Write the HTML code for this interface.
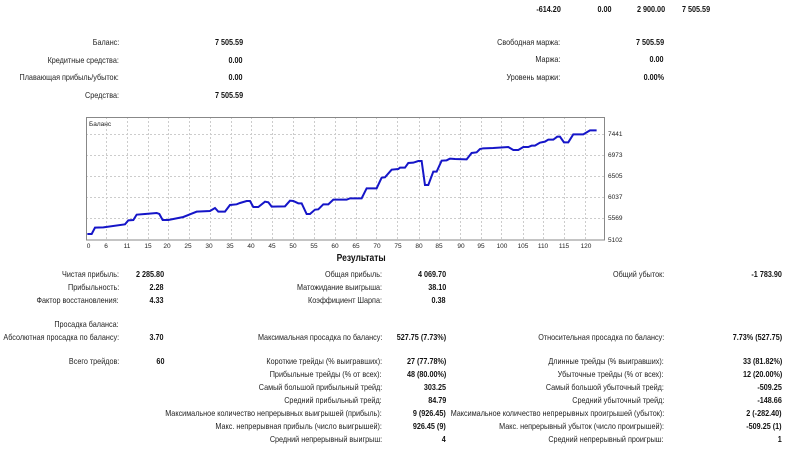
<!DOCTYPE html>
<html><head><meta charset="utf-8"><style>
body{margin:0;width:800px;height:454px;background:#fff;position:relative;overflow:hidden;font-family:"Liberation Sans","DejaVu Sans",sans-serif;font-size:8.5px;color:#222}
.t{position:absolute;white-space:nowrap;line-height:12px;text-align:right;transform:scaleX(0.85);transform-origin:100% 50%}
.b{font-weight:bold;color:#111}
</style></head><body>
<div class="t b" style="right:239px;top:3px">-614.20</div>
<div class="t b" style="right:188px;top:3px">0.00</div>
<div class="t b" style="right:135px;top:3px">2 900.00</div>
<div class="t b" style="right:90px;top:3px">7 505.59</div>

<div class="t" style="right:681px;top:36px">Баланс:</div><div class="t b" style="right:557px;top:36px">7 505.59</div>
<div class="t" style="right:681px;top:54px">Кредитные средства:</div><div class="t b" style="right:557px;top:54px">0.00</div>
<div class="t" style="right:681px;top:71px">Плавающая прибыль/убыток:</div><div class="t b" style="right:557px;top:71px">0.00</div>
<div class="t" style="right:681px;top:89px">Средства:</div><div class="t b" style="right:557px;top:89px">7 505.59</div>

<div class="t" style="right:240px;top:36px">Свободная маржа:</div><div class="t b" style="right:136px;top:36px">7 505.59</div>
<div class="t" style="right:240px;top:53px">Маржа:</div><div class="t b" style="right:136px;top:53px">0.00</div>
<div class="t" style="right:240px;top:71px">Уровень маржи:</div><div class="t b" style="right:136px;top:71px">0.00%</div>

<svg style="position:absolute;left:0;top:0" width="800" height="454">
<g stroke="#ccc" stroke-dasharray="2,2" stroke-width="1">
<line x1="86" x2="604" y1="134.5" y2="134.5"/><line x1="86" x2="604" y1="155.5" y2="155.5"/><line x1="86" x2="604" y1="176.5" y2="176.5"/><line x1="86" x2="604" y1="197.5" y2="197.5"/><line x1="86" x2="604" y1="218.5" y2="218.5"/>
<line x1="106.5" x2="106.5" y1="117" y2="240"/><line x1="127.5" x2="127.5" y1="117" y2="240"/><line x1="148.5" x2="148.5" y1="117" y2="240"/><line x1="168.5" x2="168.5" y1="117" y2="240"/><line x1="189.5" x2="189.5" y1="117" y2="240"/><line x1="210.5" x2="210.5" y1="117" y2="240"/><line x1="231.5" x2="231.5" y1="117" y2="240"/><line x1="251.5" x2="251.5" y1="117" y2="240"/><line x1="272.5" x2="272.5" y1="117" y2="240"/><line x1="293.5" x2="293.5" y1="117" y2="240"/><line x1="314.5" x2="314.5" y1="117" y2="240"/><line x1="335.5" x2="335.5" y1="117" y2="240"/><line x1="356.5" x2="356.5" y1="117" y2="240"/><line x1="376.5" x2="376.5" y1="117" y2="240"/><line x1="397.5" x2="397.5" y1="117" y2="240"/><line x1="419.5" x2="419.5" y1="117" y2="240"/><line x1="439.5" x2="439.5" y1="117" y2="240"/><line x1="460.5" x2="460.5" y1="117" y2="240"/><line x1="481.5" x2="481.5" y1="117" y2="240"/><line x1="501.5" x2="501.5" y1="117" y2="240"/><line x1="523.5" x2="523.5" y1="117" y2="240"/><line x1="543.5" x2="543.5" y1="117" y2="240"/><line x1="564.5" x2="564.5" y1="117" y2="240"/><line x1="585.5" x2="585.5" y1="117" y2="240"/>
</g>
<rect x="86.5" y="117.5" width="518" height="122.5" fill="none" stroke="#888" stroke-width="1"/>
<g transform="translate(80,115) scale(0.3333)">
<polyline fill="none" stroke="#1515c8" stroke-width="6" points="22,357 35,357 45,338 70,337 135,328 145,316 160,315 170,299 195,297 230,294 238,297 248,315 265,315 310,306 330,298 350,290 390,288 405,279 415,290 435,290 450,270 470,268 480,264 500,258 510,258 520,276 535,276 555,260 565,262 575,275 615,274 630,257 640,258 655,265 665,265 680,297 690,297 705,284 715,283 730,268 745,268 760,254 800,254 810,250 845,250 860,220 890,220 905,188 915,187 935,164 955,162 960,158 975,158 985,144 1000,143 1015,138 1025,138 1035,210 1045,210 1060,170 1070,170 1085,137 1100,136 1110,131 1125,132 1160,133 1175,114 1190,112 1200,102 1210,100 1240,99 1285,96 1300,105 1315,105 1330,96 1345,96 1355,92 1365,92 1380,83 1395,80 1405,74 1420,74 1432,65 1440,65 1452,82 1465,82 1480,58 1510,58 1530,46 1550,46"/>
</g>
<g font-family="Liberation Sans, sans-serif" font-size="6.5" fill="#222">
<text x="89" y="126">Баланс</text>
<text x="608" y="136">7441</text><text x="608" y="157">6973</text><text x="608" y="178">6505</text><text x="608" y="199">6037</text><text x="608" y="220">5569</text><text x="608" y="242">5102</text>
</g>
<g font-family="Liberation Sans, sans-serif" font-size="6.5" fill="#222" text-anchor="middle">
<text x="88.5" y="248">0</text><text x="106" y="248">6</text><text x="127" y="248">11</text><text x="148" y="248">15</text><text x="167" y="248">20</text><text x="188" y="248">25</text><text x="209" y="248">30</text><text x="230" y="248">35</text><text x="251" y="248">40</text><text x="272" y="248">45</text><text x="293" y="248">50</text><text x="314" y="248">55</text><text x="335" y="248">60</text><text x="356" y="248">65</text><text x="377" y="248">70</text><text x="398" y="248">75</text><text x="419" y="248">80</text><text x="439" y="248">85</text><text x="461" y="248">90</text><text x="481" y="248">95</text><text x="502" y="248">100</text><text x="523" y="248">105</text><text x="543" y="248">110</text><text x="564" y="248">115</text><text x="586" y="248">120</text>
</g>
</svg>

<div class="t b" style="right:414px;top:253px;font-size:10px">Результаты</div>

<div class="t" style="right:681px;top:268px">Чистая прибыль:</div><div class="t b" style="right:636px;top:268px">2 285.80</div>
<div class="t" style="right:681px;top:281px">Прибыльность:</div><div class="t b" style="right:636px;top:281px">2.28</div>
<div class="t" style="right:681px;top:294px">Фактор восстановления:</div><div class="t b" style="right:636px;top:294px">4.33</div>
<div class="t" style="right:681px;top:318px">Просадка баланса:</div>
<div class="t" style="right:681px;top:331px">Абсолютная просадка по балансу:</div><div class="t b" style="right:636px;top:331px">3.70</div>
<div class="t" style="right:681px;top:355px">Всего трейдов:</div><div class="t b" style="right:636px;top:355px">60</div>

<div class="t" style="right:418px;top:268px">Общая прибыль:</div><div class="t b" style="right:354px;top:268px">4 069.70</div>
<div class="t" style="right:418px;top:281px">Матожидание выигрыша:</div><div class="t b" style="right:354px;top:281px">38.10</div>
<div class="t" style="right:418px;top:294px">Коэффициент Шарпа:</div><div class="t b" style="right:354px;top:294px">0.38</div>
<div class="t" style="right:418px;top:331px">Максимальная просадка по балансу:</div><div class="t b" style="right:354px;top:331px">527.75 (7.73%)</div>
<div class="t" style="right:418px;top:355px">Короткие трейды (% выигравших):</div><div class="t b" style="right:354px;top:355px">27 (77.78%)</div>
<div class="t" style="right:418px;top:368px">Прибыльные трейды (% от всех):</div><div class="t b" style="right:354px;top:368px">48 (80.00%)</div>
<div class="t" style="right:418px;top:381px">Самый большой прибыльный трейд:</div><div class="t b" style="right:354px;top:381px">303.25</div>
<div class="t" style="right:418px;top:394px">Средний прибыльный трейд:</div><div class="t b" style="right:354px;top:394px">84.79</div>
<div class="t" style="right:418px;top:407px">Максимальное количество непрерывных выигрышей (прибыль):</div><div class="t b" style="right:354px;top:407px">9 (926.45)</div>
<div class="t" style="right:418px;top:420px">Макс. непрерывная прибыль (число выигрышей):</div><div class="t b" style="right:354px;top:420px">926.45 (9)</div>
<div class="t" style="right:418px;top:433px">Средний непрерывный выигрыш:</div><div class="t b" style="right:354px;top:433px">4</div>

<div class="t" style="right:136px;top:268px">Общий убыток:</div><div class="t b" style="right:18px;top:268px">-1 783.90</div>
<div class="t" style="right:136px;top:331px">Относительная просадка по балансу:</div><div class="t b" style="right:18px;top:331px">7.73% (527.75)</div>
<div class="t" style="right:136px;top:355px">Длинные трейды (% выигравших):</div><div class="t b" style="right:18px;top:355px">33 (81.82%)</div>
<div class="t" style="right:136px;top:368px">Убыточные трейды (% от всех):</div><div class="t b" style="right:18px;top:368px">12 (20.00%)</div>
<div class="t" style="right:136px;top:381px">Самый большой убыточный трейд:</div><div class="t b" style="right:18px;top:381px">-509.25</div>
<div class="t" style="right:136px;top:394px">Средний убыточный трейд:</div><div class="t b" style="right:18px;top:394px">-148.66</div>
<div class="t" style="right:136px;top:407px">Максимальное количество непрерывных проигрышей (убыток):</div><div class="t b" style="right:18px;top:407px">2 (-282.40)</div>
<div class="t" style="right:136px;top:420px">Макс. непрерывный убыток (число проигрышей):</div><div class="t b" style="right:18px;top:420px">-509.25 (1)</div>
<div class="t" style="right:136px;top:433px">Средний непрерывный проигрыш:</div><div class="t b" style="right:18px;top:433px">1</div>
</body></html>
